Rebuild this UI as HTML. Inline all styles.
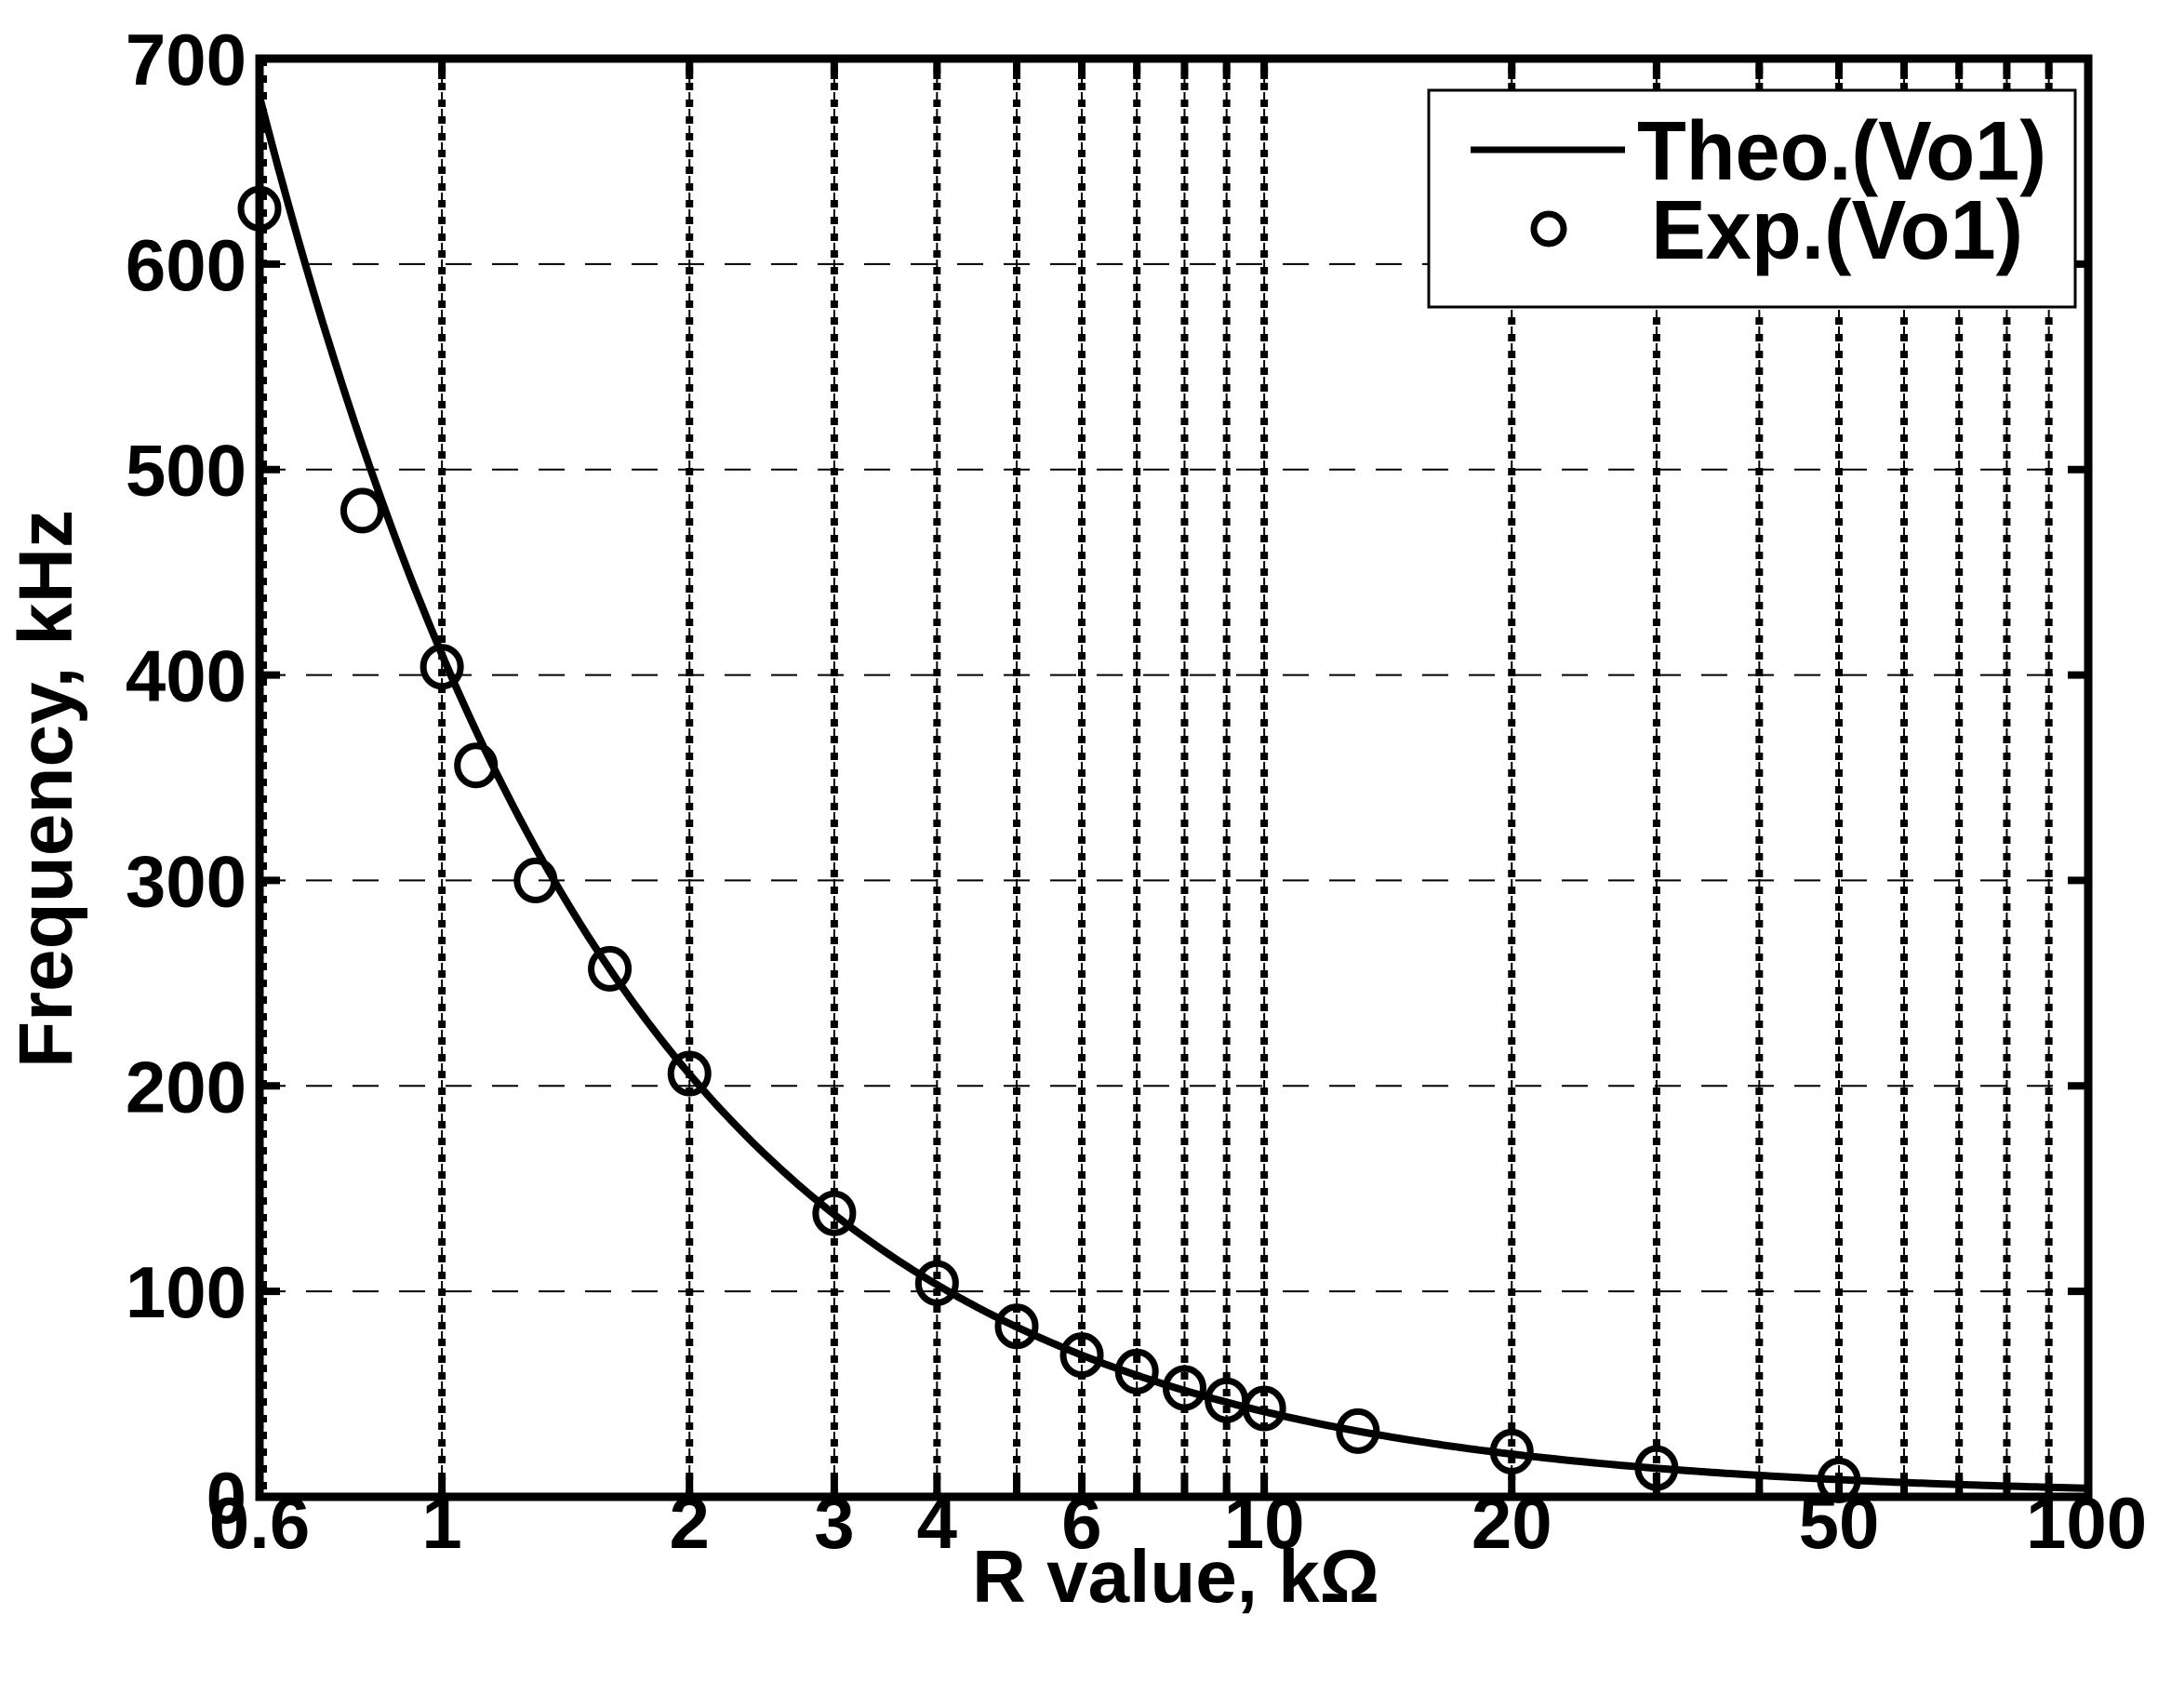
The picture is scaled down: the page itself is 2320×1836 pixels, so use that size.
<!DOCTYPE html>
<html><head><meta charset="utf-8"><style>html,body{margin:0;padding:0;background:#fff}svg{display:block}</style></head>
<body>
<svg id="s" width="2320" height="1836" viewBox="0 0 2320 1836" xmlns="http://www.w3.org/2000/svg" font-family="Liberation Sans, Arial, sans-serif" font-weight="bold">
<rect width="2320" height="1836" fill="#fff"/>
<g id="grid"></g>
<g id="curve"></g>
<g id="pts"></g>
<g id="axes"></g>
<rect x="1536" y="97" width="695" height="233" fill="#fff" stroke="#000" stroke-width="3"/>
<line x1="1581" y1="161" x2="1747" y2="161" stroke="#000" stroke-width="7"/>
<text x="1760" y="193" font-size="90" textLength="440" lengthAdjust="spacingAndGlyphs">Theo.(Vo1)</text>
<circle cx="1665" cy="246" r="16" fill="none" stroke="#000" stroke-width="7"/>
<text x="1775" y="278" font-size="90" textLength="400" lengthAdjust="spacingAndGlyphs">Exp.(Vo1)</text>
<text x="1264" y="1722" font-size="80" text-anchor="middle">R value, kΩ</text>
<text transform="translate(77,848) rotate(-90)" font-size="82" text-anchor="middle">Frequency, kHz</text>
<g id="ticks" font-size="78"></g>
</svg>
<script>
const L=279,R=2245,T=63,B=1609,D=884;
const X=v=>L+D*Math.log10(v/0.6);
const Y=f=>B-f*(B-T)/700;
const ns="http://www.w3.org/2000/svg";
function el(p,t,a,txt){const e=document.createElementNS(ns,t);for(const k in a)e.setAttribute(k,a[k]);if(txt!==undefined)e.textContent=txt;document.getElementById(p).appendChild(e);return e;}
for(let f=100;f<=600;f+=100){el('grid','line',{x1:L,x2:R,y1:Y(f),y2:Y(f),stroke:'#000','stroke-width':2,'stroke-dasharray':'28,22'});}
const vs=[1,2,3,4,5,6,7,8,9,10,20,30,40,50,60,70,80,90];
for(const v of vs){const x=X(v);
 el('grid','line',{x1:x,x2:x,y1:T,y2:B,stroke:'#000','stroke-width':2,'stroke-dasharray':'12,6'});
 el('grid','line',{x1:x,x2:x,y1:T+8,y2:B,stroke:'#000','stroke-width':8,'stroke-dasharray':'8,10'});
 el('grid','line',{x1:x,x2:x,y1:B,y2:B-22,stroke:'#000','stroke-width':8});
 el('grid','line',{x1:x,x2:x,y1:T,y2:T+22,stroke:'#000','stroke-width':8});
}
el('grid','line',{x1:L+4,x2:L+4,y1:T,y2:B,stroke:'#000','stroke-width':8,'stroke-dasharray':'8,10'});
let d='';for(let i=0;i<=400;i++){const v=0.6*Math.pow(100/0.6,i/400);const f=410/Math.pow(v,0.995);d+=(i?'L':'M')+X(v).toFixed(1)+','+Math.max(Y(f),T).toFixed(1);}
el('curve','path',{d:d,fill:'none',stroke:'#000','stroke-width':8});
const P=[[0.6,627],[0.8,480],[1,404],[1.1,356],[1.3,300],[1.6,257],[2,206],[3,138],[4,104],[5,83],[6,69],[7,61],[8,53],[9,47],[10,43],[13,32],[20,22],[30,14],[50,8]];
for(const [v,f] of P){el('pts','ellipse',{cx:X(v),cy:Y(f),rx:20,ry:21,fill:'none',stroke:'#000','stroke-width':7});}
el('axes','rect',{x:L,y:T,width:R-L,height:B-T,fill:'none',stroke:'#000','stroke-width':9});
for(let f=0;f<=700;f+=100){const y=Y(f);
 el('axes','line',{x1:L,x2:L+22,y1:y,y2:y,stroke:'#000','stroke-width':8});
 el('axes','line',{x1:R,x2:R-22,y1:y,y2:y,stroke:'#000','stroke-width':8});
 el('ticks','text',{x:265,y:y+28,'text-anchor':'end'},String(f));
}
const xl=[[0.6,'0.6'],[1,'1'],[2,'2'],[3,'3'],[4,'4'],[6,'6'],[10,'10'],[20,'20'],[50,'50'],[100,'100']];
for(const [v,s] of xl){el('ticks','text',{x:X(v),y:1664,'text-anchor':'middle'},s);}
</script>
</body></html>
